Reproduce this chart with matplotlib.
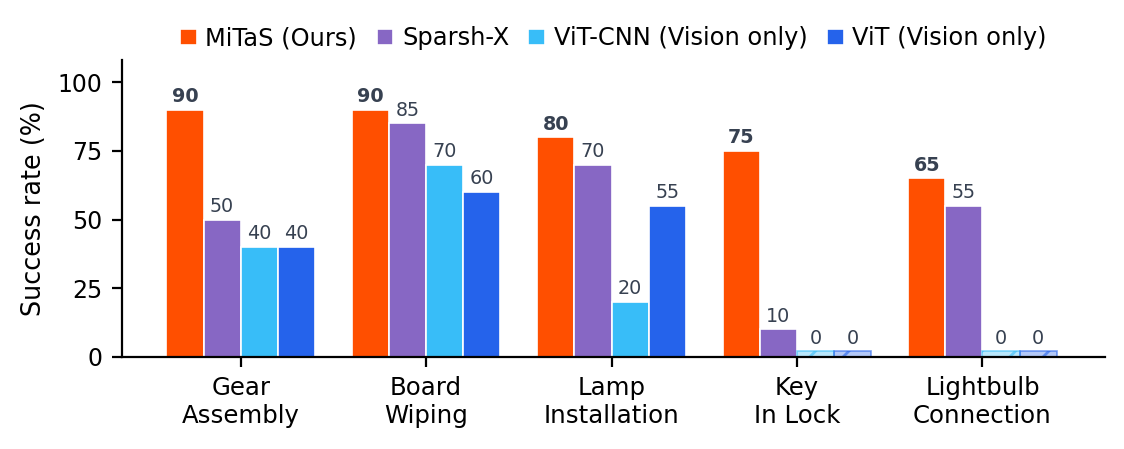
import numpy as np
import matplotlib
matplotlib.use("Agg")
import matplotlib.pyplot as plt

tasks = ["Gear\nAssembly", "Board\nWiping", "Lamp\nInstallation", "Key\nIn Lock", "Lightbulb\nConnection"]
methods = ["MiTaS (Ours)", "Sparsh-X", "ViT-CNN (Vision only)", "ViT (Vision only)"]
mitas = [90, 90, 80, 75, 65]
sparsh = [50, 85, 70, 10, 55]
vit_cnn = [40, 70, 20, 0, 0]
vit = [40, 60, 55, 0, 0]
colors = ["#FF4F00", "#8767C4", "#38BDF8", "#2563EB"]

series = [mitas, sparsh, vit_cnn, vit]
x = np.arange(len(tasks))
width = 0.2
stub = 2.0
label_color = "#374151"

fig = plt.figure(figsize=(5.62, 2.245), dpi=200)
ax = fig.add_axes([0.1085, 0.205, 0.8745, 0.661])

for j, (vals, name, c) in enumerate(zip(series, methods, colors)):
    pos = x + (j - 1.5) * width
    vals = np.array(vals, dtype=float)
    nz = vals > 0
    ax.bar(pos[nz], vals[nz], width, color=c, edgecolor="white", linewidth=0.6, label=name)
    # zero results shown as a thin hatched stub
    if (~nz).any():
        ax.bar(pos[~nz], np.full((~nz).sum(), stub), width, facecolor=matplotlib.colors.to_rgba(c, 0.35),
               edgecolor=matplotlib.colors.to_rgba(c, 0.6), hatch="//", linewidth=0.6)
    for p, v in zip(pos, vals):
        y = max(v, stub)
        ax.text(p, y + 1.3, f"{int(v)}", ha="center", va="bottom", fontsize=6.9,
                color=label_color, fontweight="bold" if j == 0 else "normal")

ax.set_xticks(x)
ax.set_xticklabels(tasks, fontsize=8.8)
ax.set_yticks([0, 25, 50, 75, 100])
ax.tick_params(axis="y", labelsize=8.5)
ax.set_ylim(0, 108)
ax.set_xlim(-0.64, 4.66)
ax.set_ylabel("Success rate (%)", fontsize=9.2)
ax.spines["top"].set_visible(False)
ax.spines["right"].set_visible(False)

ax.legend(loc="lower center", bbox_to_anchor=(0.5, 1.0), ncol=4, frameon=False, fontsize=8.7,
          handlelength=0.7, handleheight=0.7, handletextpad=0.35, columnspacing=0.8, borderaxespad=0)

fig.savefig("out.png", dpi=200)
